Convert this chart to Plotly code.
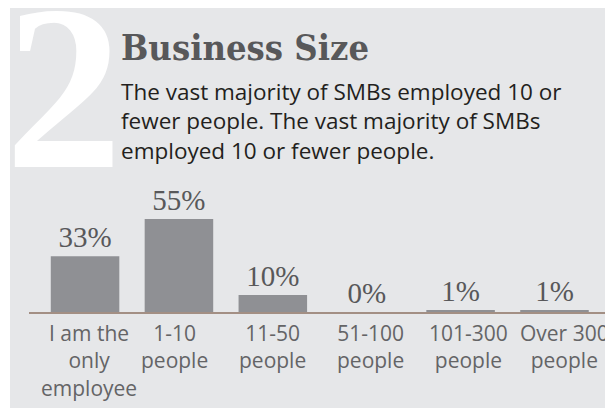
import plotly.graph_objects as go

# ---- data ----
categories = ["I am the only employee", "1-10 people", "11-50 people",
              "51-100 people", "101-300 people", "Over 300 people"]
values = [33, 55, 10, 0, 1, 1]
axis_labels = ["I am the<br>only<br>employee", "1-10<br>people", "11-50<br>people",
               "51-100<br>people", "101-300<br>people", "Over 300<br>people"]
title_text = "Business Size"
subtitle_text = ("The vast majority of SMBs employed 10 or<br>"
                 "fewer people. The vast majority of SMBs<br>"
                 "employed 10 or fewer people.")
big_number = "2"

# ---- layout geometry ----
# the page body has an 8px margin, so the figure is drawn 8px smaller and
# all positions below are given in page pixels and converted.
OFF = 8
W, H = 613 - OFF, 408 - OFF
L, R, T, B = 21, 8, 182, 96
PW, PH = W - L - R, H - T - B

def px(x_page):
    return (x_page - OFF - L) / PW

def py(y_page):
    return (H - B - (y_page - OFF)) / PH

label_xshift = [4, -4, 0, 4, 8, 10]
label_size = 21

fig = go.Figure()
fig.add_trace(go.Bar(
    x=categories, y=values,
    texttemplate="%{y}%", textposition="outside",
    textfont=dict(family="Liberation Serif", size=29, color="#58585a"),
    marker=dict(color="#8f9094", line=dict(width=0)),
    width=0.73, cliponaxis=False, constraintext="none",
    hoverinfo="skip",
))

annotations = []
# big decorative number
annotations.append(dict(
    text="<b>" + big_number + "</b>", xref="paper", yref="paper",
    x=px(5), y=py(167 + 0.216 * 235), xanchor="left", yanchor="bottom",
    showarrow=False, borderpad=0, borderwidth=0,
    font=dict(family="Liberation Serif", size=235, color="#ffffff"),
))
# title
annotations.append(dict(
    text="<b>" + title_text + "</b>", xref="paper", yref="paper",
    x=px(121), y=py(59 - 0.928 * 36), xanchor="left", yanchor="top",
    showarrow=False, borderpad=0, borderwidth=0,
    font=dict(family="DejaVu Serif Condensed, Liberation Serif", size=36, color="#58585a"),
))
# subtitle
annotations.append(dict(
    text=subtitle_text, xref="paper", yref="paper", align="left",
    x=px(121), y=py(100 - 1.069 * 22.5), xanchor="left", yanchor="top",
    showarrow=False, borderpad=0, borderwidth=0,
    font=dict(family="Open Sans", size=22.5, color="#231f20"),
))
# category labels
for i, lab in enumerate(axis_labels):
    annotations.append(dict(
        text=lab, xref="x", yref="paper", align="center",
        x=categories[i], xshift=label_xshift[i],
        y=py(341.7 - 1.069 * label_size), yanchor="top", xanchor="center",
        showarrow=False, borderpad=0, borderwidth=0,
        font=dict(family="Open Sans", size=label_size, color="#646466"),
    ))

fig.update_layout(
    width=W, height=H,
    margin=dict(l=L, r=R, t=T, b=B, pad=0),
    paper_bgcolor="#ffffff", plot_bgcolor="rgba(0,0,0,0)",
    showlegend=False,
    bargap=0.27,
    shapes=[dict(type="rect", xref="paper", yref="paper", layer="below",
                 x0=px(10), x1=px(640), y0=py(440), y1=py(7),
                 fillcolor="#e6e7e9", line=dict(width=0))],
    annotations=annotations,
    xaxis=dict(type="category", range=[-0.597, 5.538], showline=True,
               linecolor="#a38f84", linewidth=1.5, showticklabels=False,
               showgrid=False, zeroline=False, ticks="", fixedrange=True),
    yaxis=dict(range=[0, PH / 1.69], visible=False, fixedrange=True),
)

fig.write_html("out.html")
